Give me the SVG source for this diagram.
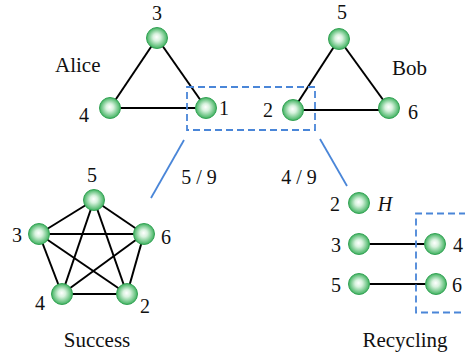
<svg xmlns="http://www.w3.org/2000/svg" width="465" height="361" viewBox="0 0 465 361">
<defs>
<radialGradient id="g" cx="0.5" cy="0.5" r="0.5" fx="0.48" fy="0.45">
<stop offset="0" stop-color="#ffffff"/>
<stop offset="0.35" stop-color="#d8f2de"/>
<stop offset="1" stop-color="#3fb25f"/>
</radialGradient>
</defs>
<style>
.n{fill:url(#g);stroke:#35a356;stroke-width:1}
.e{stroke:#000;stroke-width:2;fill:none}
.d{stroke:#4a86d8;stroke-width:1.8;fill:none;stroke-dasharray:7 4}
.b{stroke:#4a86d8;stroke-width:1.8;fill:none}
text{font-size:20px;fill:#111}
.w{font-size:21px}
.m{text-anchor:middle}
</style>
<rect width="465" height="361" fill="#fff"/>
<g id="connectors">
<line class="e" x1="157" y1="38" x2="110" y2="108"/>
<line class="e" x1="157" y1="38" x2="206" y2="108"/>
<line class="e" x1="110" y1="108" x2="206" y2="108"/>
<line class="e" x1="339" y1="39" x2="293" y2="110"/>
<line class="e" x1="339" y1="39" x2="389" y2="108"/>
<line class="e" x1="293" y1="110" x2="389" y2="110"/>
<line class="e" x1="94" y1="200" x2="39" y2="234"/>
<line class="e" x1="94" y1="200" x2="144" y2="234"/>
<line class="e" x1="94" y1="200" x2="62" y2="294"/>
<line class="e" x1="94" y1="200" x2="127" y2="294"/>
<line class="e" x1="39" y1="234" x2="144" y2="234"/>
<line class="e" x1="39" y1="234" x2="62" y2="294"/>
<line class="e" x1="39" y1="234" x2="127" y2="294"/>
<line class="e" x1="144" y1="234" x2="62" y2="294"/>
<line class="e" x1="144" y1="234" x2="127" y2="294"/>
<line class="e" x1="62" y1="294" x2="127" y2="294"/>
<line class="e" x1="359" y1="244" x2="435" y2="244"/>
<line class="e" x1="359" y1="284" x2="436" y2="284"/>
<rect class="d" x="187" y="87" width="128" height="43"/>
<path class="d" d="M466 213.5 H416 V312.5 H466"/>
<line class="b" x1="184" y1="140" x2="151" y2="198"/>
<line class="b" x1="320" y1="139" x2="347" y2="186"/>
</g>
<g font-family="'Liberation Serif', 'Times New Roman', serif">
<g id="alice">
<text x="55" y="72" class="w">Alice</text>
<g id="a3"><circle class="n" cx="157" cy="38" r="10.5"/><text x="157" y="20" class="m">3</text></g>
<g id="a4"><circle class="n" cx="110" cy="108" r="10.5"/><text x="84" y="122" class="m">4</text></g>
<g id="a1"><circle class="n" cx="206" cy="108" r="10.5"/><text x="224" y="115" class="m">1</text></g>
</g>
<g id="bob">
<text x="392" y="75" class="w">Bob</text>
<g id="b5"><circle class="n" cx="339" cy="39" r="10.5"/><text x="342" y="19" class="m">5</text></g>
<g id="b2"><circle class="n" cx="293" cy="110" r="10.5"/><text x="268" y="117" class="m">2</text></g>
<g id="b6"><circle class="n" cx="389" cy="108" r="10.5"/><text x="413" y="119" class="m">6</text></g>
</g>
<text x="199" y="184" class="m">5 / 9</text>
<text x="299" y="184" class="m">4 / 9</text>
<g id="success">
<g id="s5"><circle class="n" cx="94" cy="200" r="10.5"/><text x="92" y="182" class="m">5</text></g>
<g id="s3"><circle class="n" cx="39" cy="234" r="10.5"/><text x="17" y="242" class="m">3</text></g>
<g id="s6"><circle class="n" cx="144" cy="234" r="10.5"/><text x="166" y="244" class="m">6</text></g>
<g id="s4"><circle class="n" cx="62" cy="294" r="10.5"/><text x="40" y="310" class="m">4</text></g>
<g id="s2"><circle class="n" cx="127" cy="294" r="10.5"/><text x="145" y="313" class="m">2</text></g>
<text x="97" y="347" class="m w">Success</text>
</g>
<g id="recycling">
<g id="r2"><circle class="n" cx="359" cy="203" r="10.5"/><text x="335" y="211" class="m">2</text><text x="385" y="211" class="m" font-style="italic">H</text></g>
<g id="r3"><circle class="n" cx="359" cy="244" r="10.5"/><text x="336" y="252" class="m">3</text></g>
<g id="r4"><circle class="n" cx="435" cy="244" r="10.5"/><text x="458" y="252" class="m">4</text></g>
<g id="r5"><circle class="n" cx="359" cy="284" r="10.5"/><text x="336" y="292" class="m">5</text></g>
<g id="r6"><circle class="n" cx="436" cy="284" r="10.5"/><text x="457" y="292" class="m">6</text></g>
<text x="405" y="347" class="m w">Recycling</text>
</g>
</g>
</svg>
